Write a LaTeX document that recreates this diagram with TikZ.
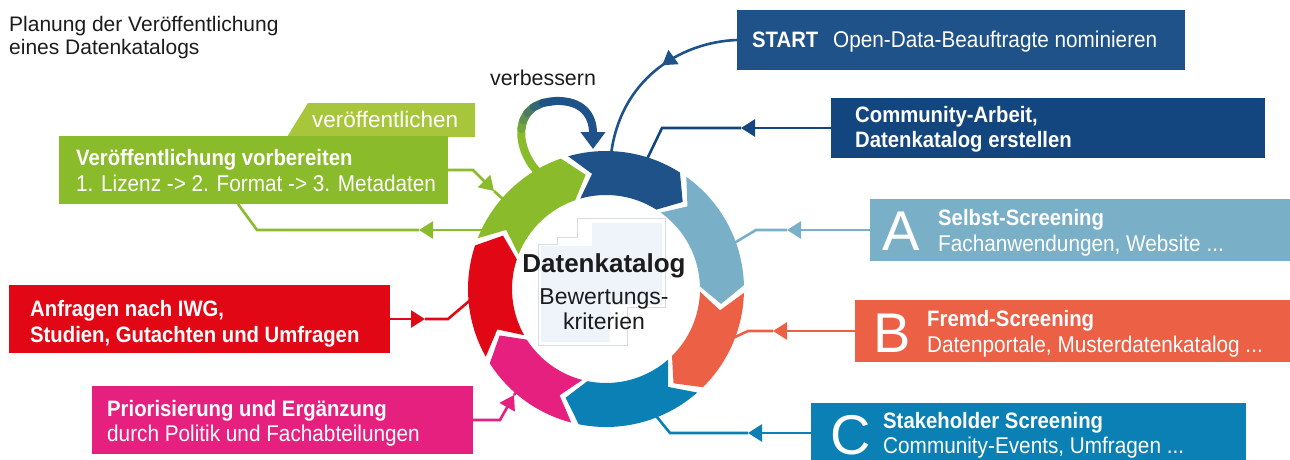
\documentclass[tikz,border=0pt]{standalone}
\usepackage{fontspec}
\setmainfont{Liberation Sans}
\newfontfamily\condf[FakeStretch=0.91]{Liberation Sans}
\usetikzlibrary{arrows.meta,decorations.markings}
\definecolor{cDark}{HTML}{1E5288}
\definecolor{cComm}{HTML}{13467F}
\definecolor{cLight}{HTML}{7AAFC8}
\definecolor{cOrange}{HTML}{EC6045}
\definecolor{cBlue}{HTML}{0A80B4}
\definecolor{cMag}{HTML}{E5207E}
\definecolor{cRed}{HTML}{E20714}
\definecolor{cGreen}{HTML}{89BB2A}
\definecolor{cTab}{HTML}{A8C63B}
\definecolor{cText}{HTML}{1C1C1C}
\definecolor{cPale}{HTML}{EEF4FA}
\definecolor{cLine}{HTML}{D8DCE0}
\tikzset{
 box/.style={anchor=north west, inner sep=0pt, outer sep=0pt, draw=none},
 conn/.style={line width=2.6pt},
 tipA/.style={-{Triangle[length=14pt,width=17pt]}},
 bt/.style={anchor=base west, inner sep=0pt, text=white, font=\condf\bfseries\fontsize{22.3}{26}\selectfont},
 rt/.style={anchor=base west, inner sep=0pt, text=white, font=\condf\fontsize{22.8}{26}\selectfont},
 big/.style={anchor=base west, inner sep=0pt, text=white, font=\fontsize{56}{56}\selectfont},
}
\begin{document}
\begin{tikzpicture}[x=1pt,y=-1pt]
\useasboundingbox (0,0) rectangle (1290,460);
% ring anchor coordinates
\begin{scope}[shift={(606,289)}]
\begin{scope}[yscale=-1]
\coordinate (rStart) at (88:130);
\coordinate (rComm) at (73:128);
\coordinate (rA) at (19:128);
\coordinate (rB) at (-25:128);
\coordinate (rC) at (-70:126);
\coordinate (rM) at (-131:126);
\coordinate (rR) at (182:128);
\coordinate (rGin) at (139:126);
\coordinate (rGout) at (153:126);
\end{scope}
\end{scope}
% boxes
\fill[cTab] (308,103) -- (475,103) -- (475,137) -- (287,137) -- cycle;
\node[box, fill=cDark, minimum width=448pt, minimum height=60pt] (bStart) at (737,10) {};
\node[box, fill=cComm, minimum width=434pt, minimum height=60pt] (bComm) at (831,98) {};
\node[box, fill=cLight, minimum width=420pt, minimum height=62pt] (bA) at (870,199) {};
\node[box, fill=cOrange, minimum width=435pt, minimum height=62pt] (bB) at (855,300) {};
\node[box, fill=cBlue, minimum width=435pt, minimum height=60pt] (bC) at (811,403) {};
\node[box, fill=cRed, minimum width=381pt, minimum height=68pt] (bR) at (9,285) {};
\node[box, fill=cMag, minimum width=381pt, minimum height=68pt] (bM) at (92,386) {};
\node[box, fill=cGreen, minimum width=389pt, minimum height=68pt] (bG) at (59,136) {};
% connectors
\draw[conn, cDark, postaction={decorate}, decoration={markings, mark=at position 0.42 with {\arrow{Triangle[length=14pt,width=17pt]}}}]
  (bStart.west) .. controls (680,42) and (618,80) .. (rStart);
\coordinate (tComm) at (741,128); \coordinate (kComm) at (662,128);
\draw[conn, cComm, tipA] (bComm.west) -- (tComm);
\draw[conn, cComm] (tComm) -- (kComm) -- (rComm);
\coordinate (tA) at (787,230); \coordinate (kA) at (756,230);
\draw[conn, cLight, tipA] (bA.west) -- (tA);
\draw[conn, cLight] (tA) -- (kA) -- (rA);
\coordinate (tB) at (773,331); \coordinate (kB) at (748,331);
\draw[conn, cOrange, tipA] (bB.west) -- (tB);
\draw[conn, cOrange] (tB) -- (kB) -- (rB);
\coordinate (tC) at (748,433); \coordinate (kC) at (670,433);
\draw[conn, cBlue, tipA] (bC.west) -- (tC);
\draw[conn, cBlue] (tC) -- (kC) -- (rC);
\coordinate (tR) at (425,319); \coordinate (kR) at (448,319);
\draw[conn, cRed, tipA] (bR.east) -- (tR);
\draw[conn, cRed] (tR) -- (kR) -- (rR);
\coordinate (kM) at (500,420); \coordinate (tM) at (514,395);
\draw[conn, cMag, tipA] (bM.east) -- (kM) -- (tM);
\draw[conn, cMag] (tM) -- (rM);
\coordinate (kG) at (473,170); \coordinate (tG) at (494,191);
\draw[conn, cGreen, tipA] (bG.east) -- (kG) -- (tG);
\draw[conn, cGreen] (tG) -- (rGin);
\coordinate (tGo) at (419,230); \coordinate (kGo) at (257,230); \coordinate (bGo) at (238,204);
\draw[conn, cGreen, tipA] (rGout |- tGo) -- (tGo);
\draw[conn, cGreen] (tGo) -- (kGo) -- (bGo);
% verbessern loop
\coordinate (loopS) at (538,172);
\coordinate (loopT) at (555,101);
\draw[cGreen, line width=8pt] (loopS) .. controls (516,150) and (510,103) .. (loopT);
\path (loopS) .. controls (516,150) and (510,103) .. (loopT)
  coordinate[pos=0.5] (q5) coordinate[pos=0.6] (q6) coordinate[pos=0.7] (q7)
  coordinate[pos=0.8] (q8) coordinate[pos=0.9] (q9) coordinate[pos=1] (q10);
\draw[cGreen!80!cDark, line width=8pt, line cap=round] (q5) -- (q6);
\draw[cGreen!60!cDark, line width=8pt, line cap=round] (q6) -- (q7);
\draw[cGreen!40!cDark, line width=8pt, line cap=round] (q7) -- (q8);
\draw[cGreen!20!cDark, line width=8pt, line cap=round] (q8) -- (q9);
\draw[cDark, line width=8pt, line cap=round] (q9) -- (q10);
\draw[cDark, line width=8pt, -{Triangle[length=17pt,width=24pt]}] (loopT) .. controls (582,100) and (593,115) .. (593,149);
% ring segments
\begin{scope}[shift={(606,289)}]
\begin{scope}[yscale=-1]
\foreach \c/\a/\b in {cDark/107.5/56, cLight/56/0, cOrange/0/-47, cBlue/-47/-103, cMag/-103/-149, cRed/-149/-200, cGreen/160/107.5}{
 \fill[\c] ({\a-1.6}:138) arc[start angle={\a-1.6}, end angle={\b+1.6}, radius=138]
   -- ({\b+1.6-9}:116) -- ({\b+1.6}:94)
   arc[start angle={\b+1.6}, end angle={\a-1.6}, radius=94]
   -- ({\a-1.6-9}:116) -- cycle;
}
\end{scope}
\end{scope}
% center icons
\fill[cPale] (592,223) rectangle (662,305);
\fill[cPale] (541,246) rectangle (610,342);
\draw[cLine, line width=1pt] (577,237) -- (577,218) -- (665,218) -- (665,307) -- (627,307) -- (627,345) -- (538,345) -- (538,244) -- (557,244) -- (557,237) -- cycle;
% texts
\node[anchor=base west, inner sep=0pt, text=cText, font=\fontsize{21}{24}\selectfont] (title1) at (9,32) {Planung der Veröffentlichung};
\node[anchor=base west, inner sep=0pt, text=cText, font=\fontsize{21}{24}\selectfont] (title2) at (9,55) {eines Datenkatalogs};
\node[anchor=base, inner sep=0pt, text=cText, font=\fontsize{21.4}{24}\selectfont] (verb) at (543,85) {verbessern};
\node[anchor=base west, inner sep=0pt, text=white, font=\fontsize{22.5}{24}\selectfont] (tabT) at (312,127) {veröffentlichen};
\node[anchor=base, inner sep=0pt, text=cText, font=\bfseries\fontsize{26}{28}\selectfont] (dk1) at (604,272) {Datenkatalog};
\node[anchor=base, inner sep=0pt, text=cText, font=\fontsize{23}{26}\selectfont] (dk2) at (604,304) {Bewertungs-};
\node[anchor=base, inner sep=0pt, text=cText, font=\fontsize{23}{26}\selectfont] (dk3) at (604,329) {kriterien};
\node[bt] (s1) at (752,48) {START};
\node[rt] (s2) at (833,48) {Open-Data-Beauftragte nominieren};
\node[bt] (c1) at (855,122) {Community-Arbeit,};
\node[bt] (c2) at (855,147) {Datenkatalog erstellen};
\node[big] (aL) at (882,250) {A};
\node[bt] (a1) at (938,225) {Selbst-Screening};
\node[rt] (a2) at (938,251) {Fachanwendungen, Website ...};
\node[big] (bL) at (873,352) {B};
\node[bt] (b1) at (927,326) {Fremd-Screening};
\node[rt] (b2) at (927,352) {Datenportale, Musterdatenkatalog ...};
\node[big] (cL) at (830,454) {C};
\node[bt] (cc1) at (883,428) {Stakeholder Screening};
\node[rt] (cc2) at (883,453) {Community-Events, Umfragen ...};
\node[bt] (r1) at (30,316) {Anfragen nach IWG,};
\node[bt] (r2) at (30,342) {Studien, Gutachten und Umfragen};
\node[bt] (m1) at (107,416) {Priorisierung und Ergänzung};
\node[rt] (m2) at (107,441) {durch Politik und Fachabteilungen};
\node[bt] (g1) at (76,165) {Veröffentlichung vorbereiten};
\node[rt] (g2) at (76,191) {1. Lizenz -> 2. Format -> 3. Metadaten};
\end{tikzpicture}
\end{document}
